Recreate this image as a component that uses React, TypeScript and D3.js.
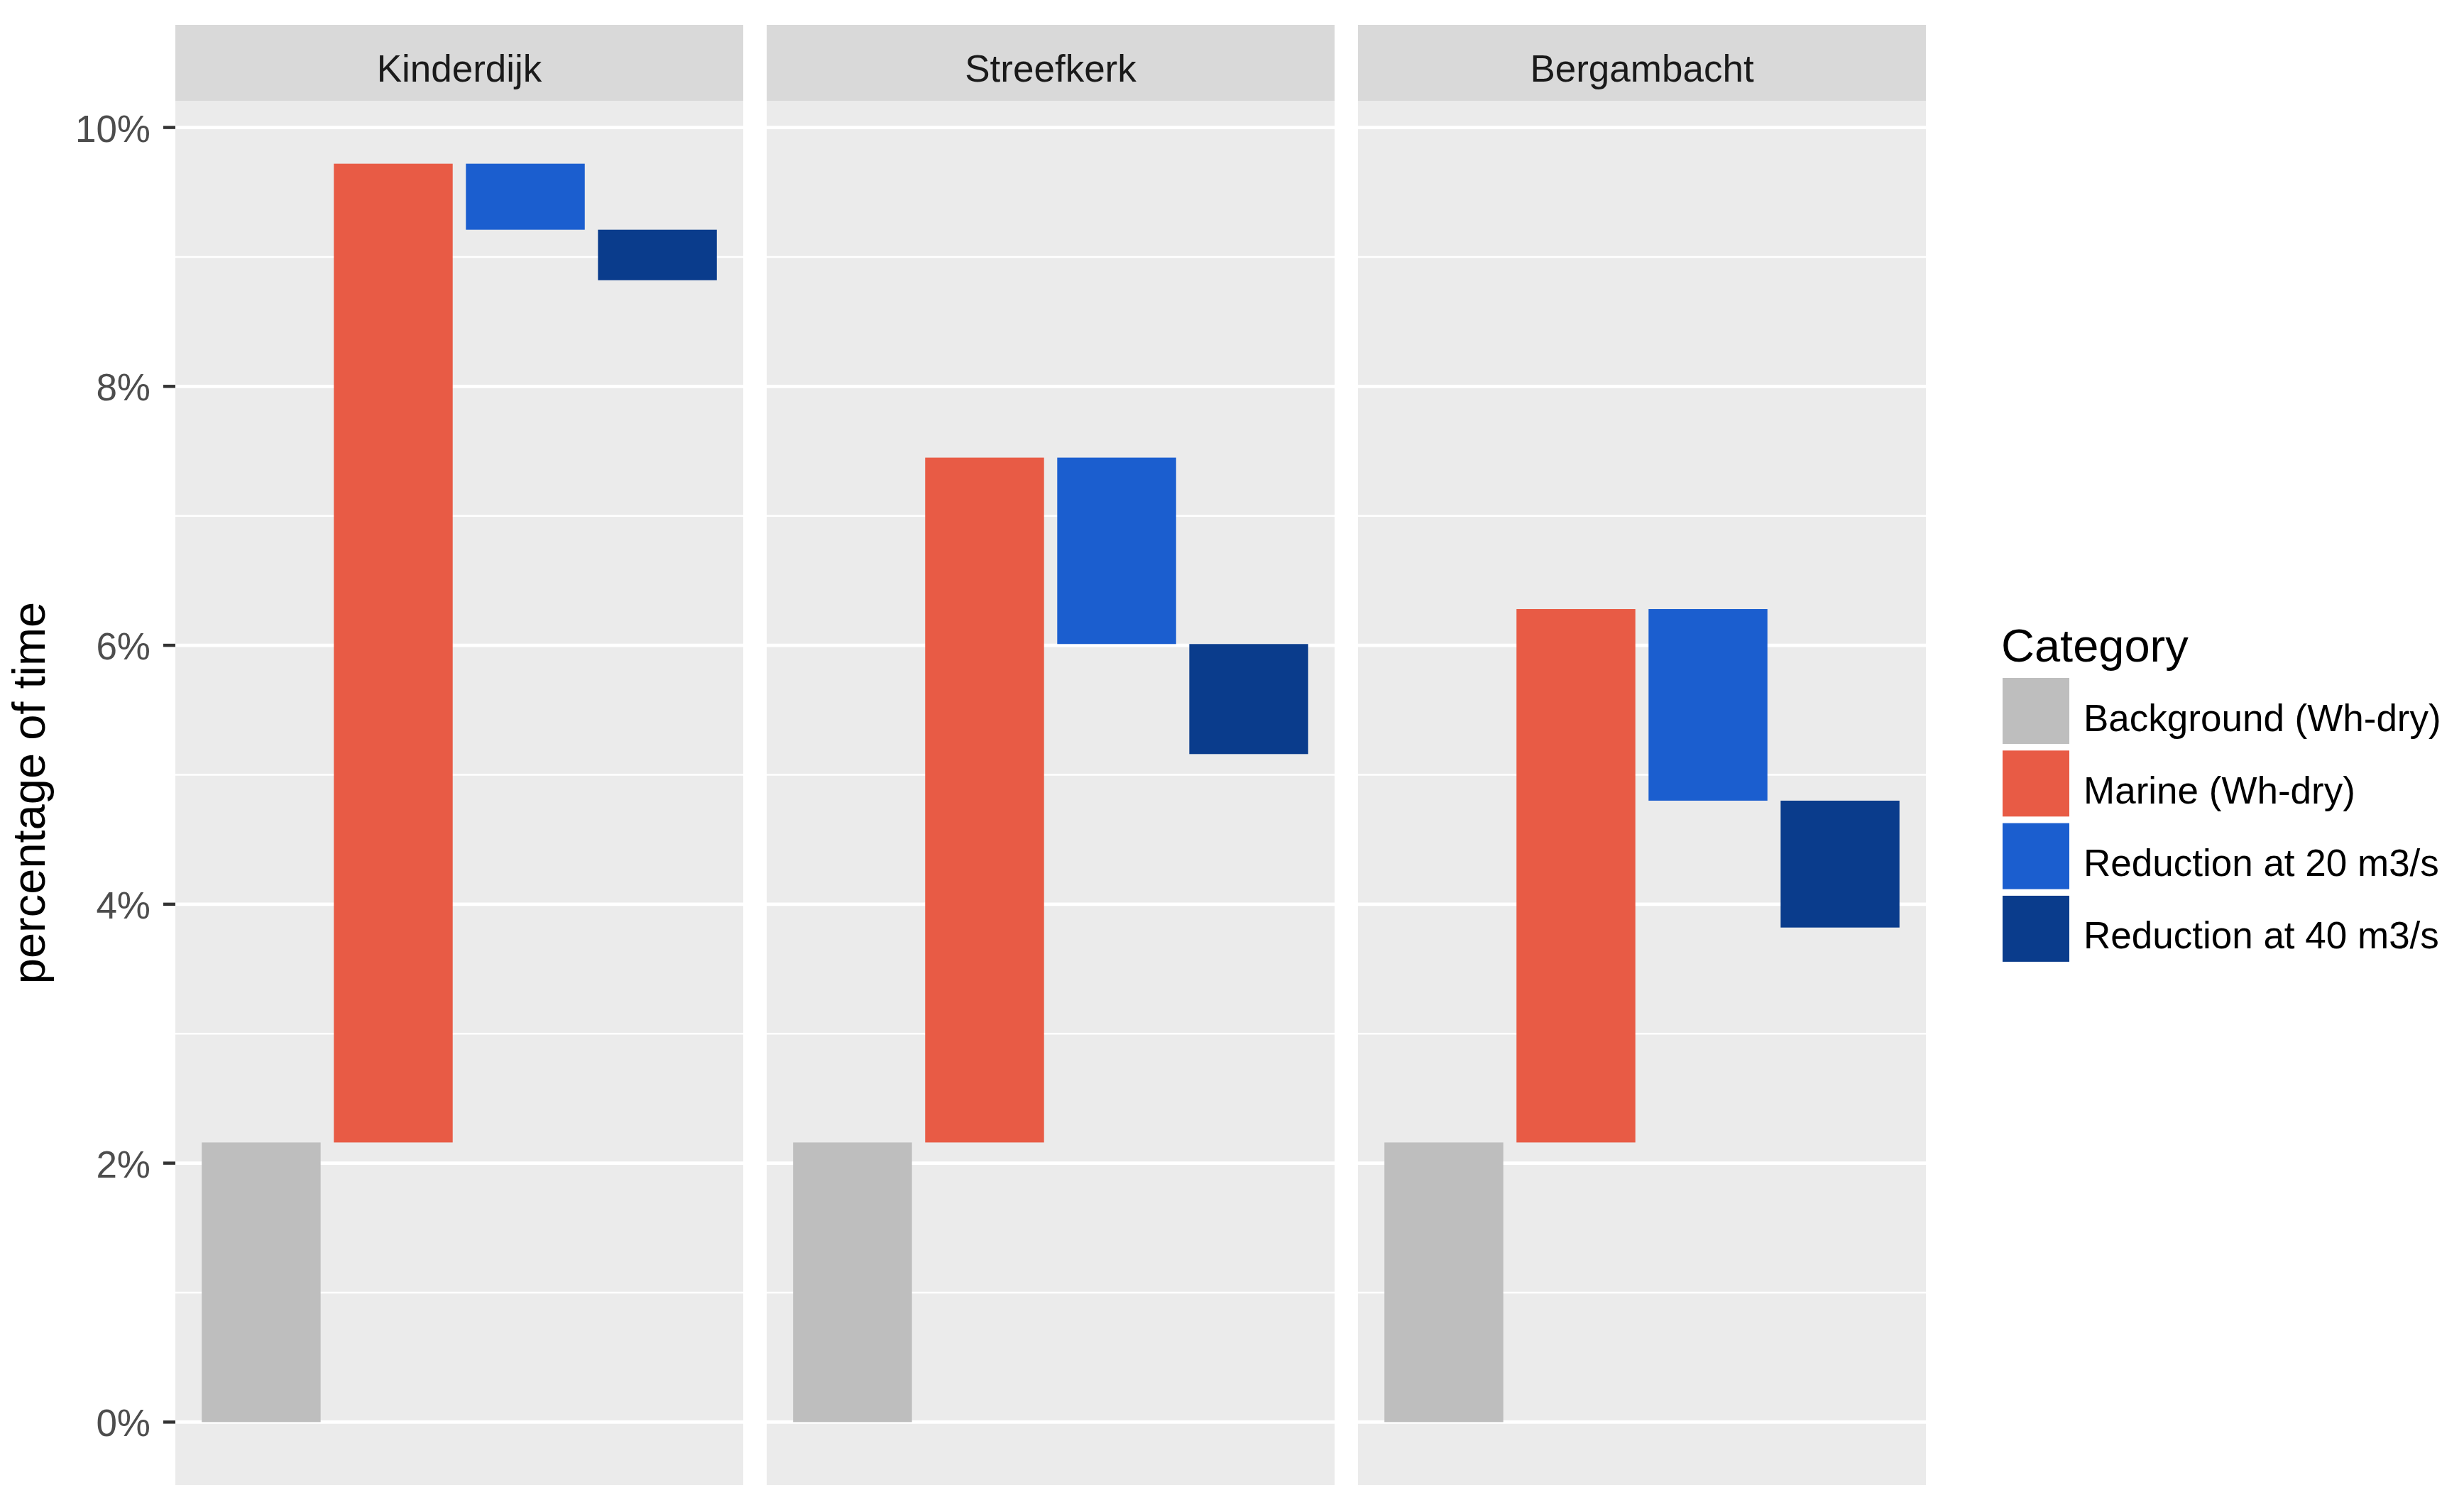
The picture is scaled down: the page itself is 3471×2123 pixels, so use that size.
import React, { useRef, useEffect } from 'react';
import * as d3 from 'd3';

const sites = ['Kinderdijk', 'Streefkerk', 'Bergambacht'];
const categories = ['Background (Wh-dry)', 'Marine (Wh-dry)', 'Reduction at 20 m3/s', 'Reduction at 40 m3/s'];
const categoryColors = ['#BEBEBE', '#E85B45', '#1B5ECF', '#0A3C8C'];

// levels (percentage of time) where each waterfall step starts / ends
const backgroundLevel = [2.16, 2.16, 2.16];
const marineLevel = [9.72, 7.45, 6.28];
const level20 = [9.21, 6.01, 4.8];
const level40 = [8.82, 5.16, 3.82];

const yTicks = [0, 2, 4, 6, 8, 10];
const yMinor = [1, 3, 5, 7, 9];

const App: React.FC = () => {
    const svgRef = useRef<SVGSVGElement | null>(null);
    const width = 3471;
    const height = 2123;
    const panel = { top: 142, bottom: 2092, width: 800, stripTop: 35 };
    const panelLeft = [247, 1080, 1913];
    const font = 'Liberation Sans, Arial, sans-serif';

    useEffect(() => {
        if (!svgRef.current) return;
        const svg = d3.select(svgRef.current);
        svg.selectAll('*').remove();

        svg.append('rect').attr('width', width).attr('height', height).attr('fill', '#FFFFFF');

        const yMax = d3.max(marineLevel) || 10;
        const pad = yMax * 0.05;
        const y = d3.scaleLinear()
            .domain([-pad, yMax + pad])
            .range([panel.bottom, panel.top]);

        sites.forEach((site, s) => {
            const left = panelLeft[s];
            const x = d3.scaleBand<string>()
                .domain(categories)
                .range([left, left + panel.width])
                .paddingInner(0.1)
                .paddingOuter(0.2);

            // strip
            svg.append('rect')
                .attr('x', left).attr('y', panel.stripTop)
                .attr('width', panel.width).attr('height', panel.top - panel.stripTop)
                .attr('fill', '#D9D9D9');
            svg.append('text')
                .attr('x', left + panel.width / 2).attr('y', 115)
                .attr('text-anchor', 'middle')
                .attr('font-family', font).attr('font-size', 53)
                .attr('fill', '#1A1A1A')
                .text(site);

            // panel background
            svg.append('rect')
                .attr('x', left).attr('y', panel.top)
                .attr('width', panel.width).attr('height', panel.bottom - panel.top)
                .attr('fill', '#EBEBEB');

            svg.append('g').selectAll('line').data(yMinor).join('line')
                .attr('x1', left).attr('x2', left + panel.width)
                .attr('y1', d => y(d)).attr('y2', d => y(d))
                .attr('stroke', '#FFFFFF').attr('stroke-width', 2.5);
            svg.append('g').selectAll('line').data(yTicks).join('line')
                .attr('x1', left).attr('x2', left + panel.width)
                .attr('y1', d => y(d)).attr('y2', d => y(d))
                .attr('stroke', '#FFFFFF').attr('stroke-width', 4.8);

            const steps: [number, number][] = [
                [0, backgroundLevel[s]],
                [backgroundLevel[s], marineLevel[s]],
                [marineLevel[s], level20[s]],
                [level20[s], level40[s]],
            ];

            svg.append('g').selectAll('rect').data(steps).join('rect')
                .attr('x', (_, i) => x(categories[i]) as number)
                .attr('width', x.bandwidth())
                .attr('y', d => y(Math.max(d[0], d[1])))
                .attr('height', d => Math.abs(y(d[0]) - y(d[1])))
                .attr('fill', (_, i) => categoryColors[i]);
        });

        // y axis
        const axis = svg.append('g');
        axis.selectAll('line').data(yTicks).join('line')
            .attr('x1', 230).attr('x2', panelLeft[0])
            .attr('y1', d => y(d)).attr('y2', d => y(d))
            .attr('stroke', '#333333').attr('stroke-width', 4.5);
        axis.selectAll('text').data(yTicks).join('text')
            .attr('x', 212).attr('y', d => y(d) + 20)
            .attr('text-anchor', 'end')
            .attr('font-family', font).attr('font-size', 53)
            .attr('fill', '#4D4D4D')
            .text(d => `${d}%`);

        svg.append('text')
            .attr('transform', `translate(63,${(panel.top + panel.bottom) / 2}) rotate(-90)`)
            .attr('text-anchor', 'middle')
            .attr('font-family', font).attr('font-size', 65)
            .attr('fill', '#000000')
            .text('percentage of time');

        // legend
        const legend = svg.append('g');
        legend.append('text')
            .attr('x', 2819).attr('y', 932)
            .attr('font-family', font).attr('font-size', 65)
            .attr('fill', '#000000')
            .text('Category');
        const keyStep = 102.3;
        categories.forEach((cat, i) => {
            const top = 955 + i * keyStep;
            legend.append('rect')
                .attr('x', 2821).attr('y', top)
                .attr('width', 94).attr('height', 93)
                .attr('fill', categoryColors[i]);
            legend.append('text')
                .attr('x', 2935).attr('y', top + 46.5 + 28)
                .attr('font-family', font).attr('font-size', 53)
                .attr('fill', '#000000')
                .text(cat);
        });
    }, []);

    return (
        <>
            <style>{'body{margin:0}'}</style>
            <svg ref={svgRef} width={width} height={height} style={{ display: 'block' }}></svg>
        </>
    );
};

export default App;
